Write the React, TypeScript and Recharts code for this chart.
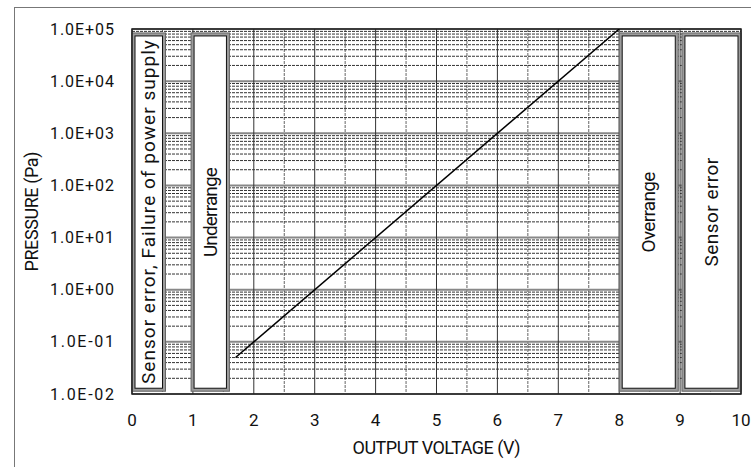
import React from "react";
import {
  ComposedChart,
  XAxis,
  YAxis,
  CartesianGrid,
  Line,
  ReferenceArea,
  Label,
} from "recharts";

// characteristic line: output voltage (V) -> pressure (Pa)
const lineVolts = [1.7, 8];
const linePressure = [0.05, 100000];

const xTicks = [0, 1, 2, 3, 4, 5, 6, 7, 8, 9, 10];
const xHalfTicks = [0.5, 1.5, 2.5, 3.5, 4.5, 5.5, 6.5, 7.5, 8.5, 9.5];
const yTicks = [0.01, 0.1, 1, 10, 100, 1000, 10000, 100000];
const yTickLabels = ["1.0E-02", "1.0E-01", "1.0E+00", "1.0E+01", "1.0E+02", "1.0E+03", "1.0E+04", "1.0E+05"];
const minorFactors = [2, 3, 4, 5, 6, 7, 8, 9];

const zoneLabels = ["Sensor error, Failure of power supply", "Underrange", "Overrange", "Sensor error"];
const zoneStart = [0, 0.97, 8.0, 9.03];
const zoneEnd = [0.55, 1.6, 8.97, 10];
const zoneBottom = 0.0113;
const zoneTop = 84000;

const data = lineVolts.map((v, i) => ({ v, p: linePressure[i] }));
const yMinor = yTicks.slice(0, -1).flatMap((d) => minorFactors.map((f) => f * d));

const FONT = "Roboto, 'Noto Sans', sans-serif";
const CHAR_W = 9.4;

function YTick(props: any) {
  const { x, y, payload } = props;
  const label = yTickLabels[yTicks.indexOf(payload.value)] ?? "";
  return (
    <text x={x - 16} y={y} textAnchor="end" dominantBaseline="central" fontSize={16} fill="#111"
      fontFamily={FONT} textLength={64} lengthAdjust="spacing">
      {label}
    </text>
  );
}

function XTick(props: any) {
  const { x, y, payload } = props;
  return (
    <text x={x} y={y + 24} textAnchor="middle" dominantBaseline="central" fontSize={17} fill="#111" fontFamily={FONT}>
      {payload.value}
    </text>
  );
}

function ZoneBox(props: any) {
  const { x, y, width, height, text } = props;
  const cx = x + width / 2;
  const cy = y + height / 2;
  const len = text.length * CHAR_W - 4;
  return (
    <g>
      <rect x={x} y={y} width={width} height={height} fill="#9c9c9c" stroke="#666" strokeWidth={1} />
      <rect x={x + 3} y={y + 3} width={width - 6} height={height - 6} fill="#fff" stroke="#111" strokeWidth={1} />
      <text x={cx} y={cy} transform={`rotate(-90 ${cx} ${cy})`} textAnchor="middle" dominantBaseline="central"
        fontSize={19} fill="#111" fontFamily={FONT} textLength={len} lengthAdjust="spacing">
        {text}
      </text>
    </g>
  );
}

export default function App() {
  return (
    <div style={{ position: "absolute", left: 0, top: 0, width: 751, height: 467, overflow: "hidden", background: "#fff" }}>
      <div style={{ position: "absolute", left: 14, top: 7, width: 780, height: 500, border: "1px solid #777" }} />
      <div style={{ position: "absolute", left: 0, top: 0 }}>
        <ComposedChart width={751} height={467} data={data} margin={{ top: 29, right: 10, bottom: 42, left: 0 }}>
          <CartesianGrid horizontal={false} verticalValues={xHalfTicks} stroke="#666" strokeDasharray="3 1" />
          <CartesianGrid vertical={false} horizontalValues={yMinor} stroke="#333" strokeDasharray="3 1" />
          <CartesianGrid vertical={false} horizontalValues={yTicks} stroke="#888" strokeWidth={2} />
          <CartesianGrid horizontal={false} verticalValues={xTicks} stroke="#333" />
          <XAxis dataKey="v" type="number" domain={[0, 10]} ticks={xTicks} height={31} tickSize={0}
            axisLine={false} tick={<XTick />} interval={0}>
            <Label content={(p: any) => {
              const vb = p.viewBox;
              return (
                <text x={vb.x + vb.width / 2} y={447} textAnchor="middle" dominantBaseline="central" fontSize={18}
                  fill="#111" fontFamily={FONT} textLength={168} lengthAdjust="spacing">
                  OUTPUT VOLTAGE (V)
                </text>
              );
            }} />
          </XAxis>
          <YAxis type="number" scale="log" domain={[0.01, 100000]} ticks={yTicks} width={132} tickSize={0}
            axisLine={false} tick={<YTick />} interval={0} allowDataOverflow>
            <Label content={(p: any) => {
              const vb = p.viewBox;
              const cy = vb.y + vb.height / 2;
              return (
                <text x={31} y={cy} transform={`rotate(-90 31 ${cy})`} textAnchor="middle" dominantBaseline="central"
                  fontSize={18} fill="#111" fontFamily={FONT} textLength={120} lengthAdjust="spacing">
                  PRESSURE (Pa)
                </text>
              );
            }} />
          </YAxis>
          {zoneLabels.map((t, i) => (
            <ReferenceArea key={t + i} x1={zoneStart[i]} x2={zoneEnd[i]} y1={zoneBottom} y2={zoneTop}
              ifOverflow="visible" shape={(p: any) => <ZoneBox {...p} text={t} />} />
          ))}
          <Line dataKey="p" type="linear" stroke="#000" strokeWidth={1.5} dot={false} activeDot={false}
            isAnimationActive={false} />
          <ReferenceArea x1={0} x2={10} y1={0.01} y2={100000} fill="none" stroke="#222" strokeWidth={1.5}
            fillOpacity={0} ifOverflow="visible" />
        </ComposedChart>
      </div>
    </div>
  );
}
